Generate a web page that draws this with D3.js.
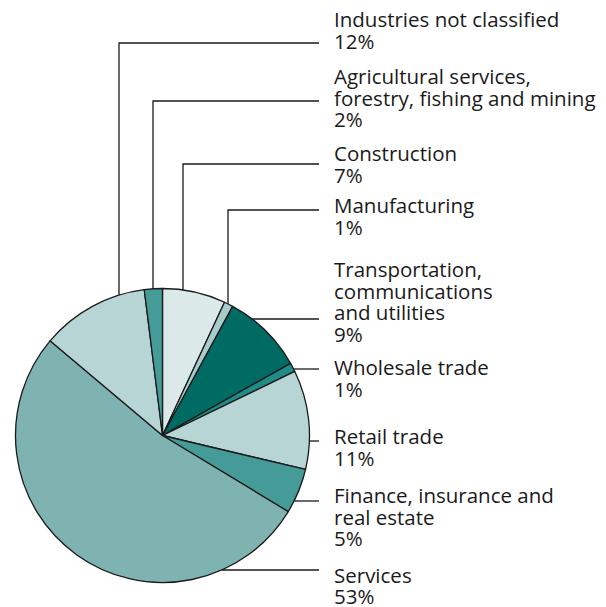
<!DOCTYPE html>
<html>
<head>
<meta charset="utf-8">
<script src="https://cdn.jsdelivr.net/npm/d3@7"></script>
<style>
  body { margin: 0; background: #fff; }
  text { font-family: "Open Sans", sans-serif; font-size: 20.5px; fill: #1a1a1a; }
</style>
</head>
<body>
<script>
// slices, clockwise from 12 o'clock
const sectors = ["Construction", "Manufacturing", "Transportation", "Wholesale", "Retail",
                 "Finance", "Services", "Industries", "Agricultural"];
const shares = [7, 1, 9, 1, 11, 5, 53, 12, 2];
const labels = [
  ["Construction", "7%"],
  ["Manufacturing", "1%"],
  ["Transportation,", "communications", "and utilities", "9%"],
  ["Wholesale trade", "1%"],
  ["Retail trade", "11%"],
  ["Finance, insurance and", "real estate", "5%"],
  ["Services", "53%"],
  ["Industries not classified", "12%"],
  ["Agricultural services,", "forestry, fishing and mining", "2%"]
];
const colors = ["#dbe9e9", "#a6cdcb", "#006b63", "#1f8c87", "#b7d5d4",
                "#449b97", "#7fb3b2", "#b7d5d4", "#449b97"];

// layout: first baseline of each label, leader (vertical x for the top ones, else horizontal y)
const labelY = [161, 213, 277, 375, 444, 503, 582.5, 27, 84];
const leaderX = [183, 228, null, null, null, null, null, 119, 153];
const leaderY = [164, 210, 319, 369, 441, 501, 570, 43, 101];

const W = 606, H = 607;
const cx = 162.5, cy = 435.5, r = 147;
const textX = 334, lineEnd = 319, lh = 21.5;

const svg = d3.select("body").append("svg").attr("width", W).attr("height", H);
const g = svg.append("g").attr("transform", `translate(${cx},${cy})`);

const pie = d3.pie().sort(null).value(d => d)(shares);
const arc = d3.arc().innerRadius(0).outerRadius(r);

g.selectAll("path").data(pie).join("path")
  .attr("d", arc)
  .attr("fill", (d, i) => colors[i])
  .attr("stroke", "#1a1a1a")
  .attr("stroke-width", 1.3)
  .attr("stroke-linejoin", "round");

// leader lines
sectors.forEach((s, i) => {
  let pts;
  if (leaderX[i] != null) {
    const dx = leaderX[i] - cx;
    const yEdge = cy - Math.sqrt(r * r - dx * dx);
    pts = [[leaderX[i], yEdge], [leaderX[i], leaderY[i]], [lineEnd, leaderY[i]]];
  } else {
    const dy = leaderY[i] - cy;
    const xEdge = cx + Math.sqrt(r * r - dy * dy);
    pts = [[xEdge, leaderY[i]], [lineEnd, leaderY[i]]];
  }
  svg.append("path")
    .attr("d", d3.line()(pts))
    .attr("fill", "none")
    .attr("stroke", "#1a1a1a")
    .attr("stroke-width", 1.3);
});

// labels
labels.forEach((lines, i) => {
  const t = svg.append("text").attr("x", textX).attr("y", labelY[i]);
  lines.forEach((l, j) => {
    t.append("tspan").attr("x", textX).attr("y", labelY[i] + j * lh).text(l);
  });
});
</script>
</body>
</html>
